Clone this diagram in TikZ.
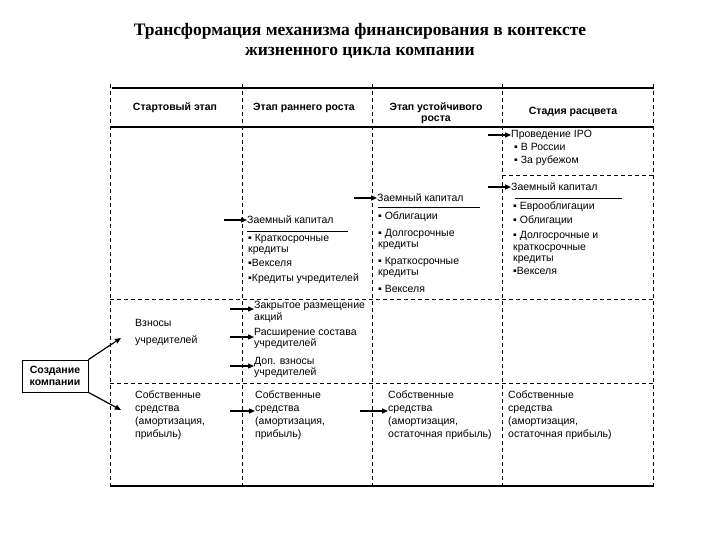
\documentclass[tikz,border=0pt]{standalone}
\usepackage{fontspec}
\setmainfont{Liberation Sans}
\newfontfamily\titlefont{Liberation Serif}
\usetikzlibrary{arrows.meta,positioning}

\begin{document}
\begin{tikzpicture}[x=1pt,y=-1pt]
\tikzset{
  celltext/.style={anchor=north west,inner sep=0pt,align=left,font=\fontsize{10.5}{11.5}\selectfont,execute at begin node={\rule{0pt}{8.5pt}}},
  owntext/.style={celltext,font=\fontsize{10.5}{12.8}\selectfont},
  linetext/.style={anchor=west,inner sep=0pt,font=\fontsize{10.5}{11.5}\selectfont},
  headtext/.style={inner sep=0pt,align=center,font=\fontsize{10.5}{11.5}\selectfont\bfseries},
  startbox/.style={draw,thick,inner sep=0pt,minimum width=66pt,minimum height=32pt,align=center,font=\fontsize{10.5}{12}\selectfont\bfseries},
  feed/.style={-{Triangle[length=6pt,width=5pt]},line width=1.2pt},
  gridline/.style={dash pattern=on 4pt off 3pt,line width=0.8pt},
  ruleline/.style={line width=1.2pt},
  underline/.style={line width=0.8pt}
}
\useasboundingbox (0,0) rectangle (720,540);

% title
\node[align=center,inner sep=0pt,font=\titlefont\bfseries\fontsize{17.5}{20}\selectfont] (title) at (360,41)
  {Трансформация механизма финансирования в контексте\\жизненного цикла компании};

% table frame
\draw[ruleline] (112,88) -- (654,88);
\draw[ruleline] (110,127) -- (654,127);
\draw[ruleline] (110,486) -- (654,486);
\foreach \x in {110,242,372,502,653}
  \draw[gridline] (\x,84) -- (\x,486);
\draw[gridline] (110,299) -- (653,299);
\draw[gridline] (110,383) -- (653,383);
\draw[gridline] (502,175) -- (653,175);

% headers
\node[headtext] (h_start) at (175,108) {Стартовый этап};
\node[headtext] (h_early) at (304,108) {Этап раннего роста};
\node[headtext] (h_stable) at (436,113) {Этап устойчивого\\роста};
\node[headtext] (h_peak) at (573,112) {Стадия расцвета};

% start stage
\node[startbox] (create) at (55,376) {Создание\\компании};
\node[celltext] (s_contrib) at (135,319) {Взносы\\[6pt]учредителей};
\node[owntext] (s_own) at (135,391) {Собственные\\средства\\(амортизация,\\прибыль)};
\coordinate (s_contrib_in) at (121,338);
\coordinate (s_own_in) at (121,410);
\draw[feed] (create.north east) -- (s_contrib_in);
\draw[feed] (create.south east) -- (s_own_in);

% early growth
\node[linetext] (e_loan) at (247,220) {Заемный капитал};
\draw[underline] (247,231) -- (348,231);
\node[celltext] (e_list) at (248,234) {▪ Краткосрочные\\кредиты\\[2.5pt]▪Векселя\\[3.5pt]▪Кредиты учредителей};
\node[celltext] (e_closed) at (254,301) {Закрытое размещение\\акций};
\node[celltext] (e_extend) at (254,328) {Расширение состава\\учредителей};
\node[celltext] (e_extra) at (254,357) {Доп. взносы\\учредителей};
\node[owntext] (e_own) at (255,391) {Собственные\\средства\\(амортизация,\\прибыль)};
\coordinate (e_loan_in) at (224,220);
\coordinate (e_closed_in) at (230,309);
\coordinate (e_extend_in) at (230,337);
\coordinate (e_extra_in) at (230,366);
\coordinate (e_own_in) at (230,411);
\draw[feed] (e_loan_in) -- (e_loan);
\draw[feed] (e_closed_in) -- (e_closed.west |- e_closed_in);
\draw[feed] (e_extend_in) -- (e_extend.west |- e_extend_in);
\draw[feed] (e_extra_in) -- (e_extra.west |- e_extra_in);
\draw[feed] (e_own_in) -- (e_own.west |- e_own_in);

% stable growth
\node[linetext] (g_loan) at (377,198) {Заемный капитал};
\draw[underline] (378,207) -- (480,207);
\node[celltext] (g_list) at (378,212) {▪ Облигации\\[5pt]▪ Долгосрочные\\кредиты\\[5pt]▪ Краткосрочные\\кредиты\\[5.5pt]▪ Векселя};
\node[owntext] (g_own) at (388,391) {Собственные\\средства\\(амортизация,\\остаточная прибыль)};
\coordinate (g_loan_in) at (354,198);
\coordinate (g_own_in) at (360,411);
\draw[feed] (g_loan_in) -- (g_loan);
\draw[feed] (g_own_in) -- (g_own.west |- g_own_in);

% peak
\node[linetext] (p_ipo) at (511,135) {Проведение IPO};
\node[celltext] (p_ipo_list) at (514,143) {▪ В России\\[1.5pt]▪ За рубежом};
\node[linetext] (p_loan) at (511,187) {Заемный капитал};
\draw[underline] (515,198) -- (622,198);
\node[celltext] (p_list) at (513,201.5) {▪ Еврооблигации\\[2.5pt]▪ Облигации\\[4pt]▪ Долгосрочные и\\краткосрочные\\кредиты\\[1.5pt]▪Векселя};
\node[owntext] (p_own) at (508,391) {Собственные\\средства\\(амортизация,\\остаточная прибыль)};
\coordinate (p_ipo_in) at (488,135);
\coordinate (p_loan_in) at (488,187);
\draw[feed] (p_ipo_in) -- (p_ipo);
\draw[feed] (p_loan_in) -- (p_loan);
\end{tikzpicture}
\end{document}
